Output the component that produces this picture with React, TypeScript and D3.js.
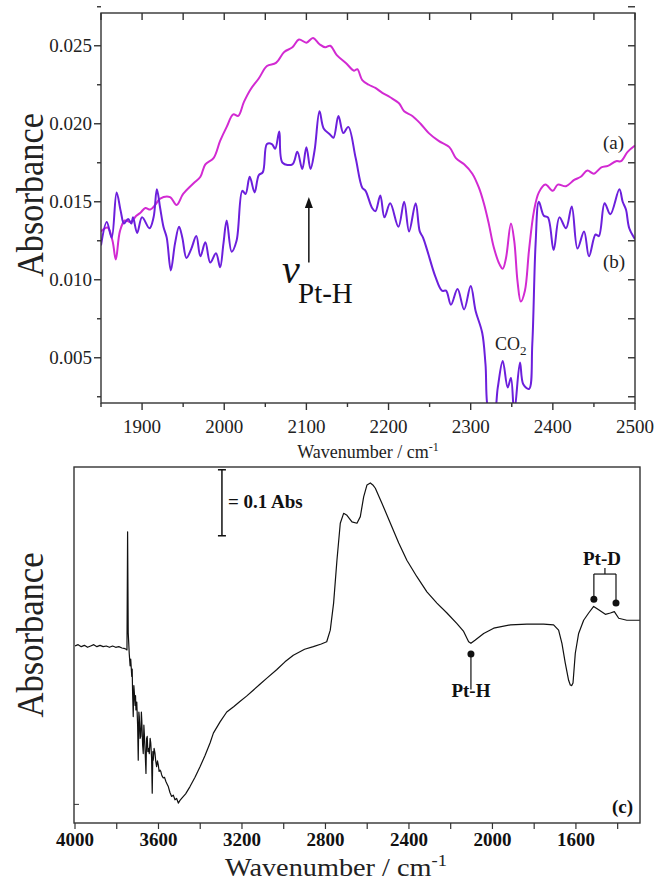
import React from 'react';
import * as d3 from 'd3';

// top panel: wavenumber (cm-1), absorbance
const specA: [number, number][] = [
  [1850, 0.0131], [1858, 0.01335], [1864, 0.0125], [1868, 0.0113], [1873, 0.0131], [1879, 0.0138],
  [1886, 0.0137], [1893, 0.0141], [1898, 0.0143], [1904, 0.0146], [1910, 0.0145], [1916, 0.0148],
  [1922, 0.0152], [1934, 0.0153], [1942, 0.0148], [1950, 0.0155], [1963, 0.0162], [1971, 0.0166],
  [1977, 0.0174], [1987, 0.0178], [1995, 0.0189], [2003, 0.0198], [2011, 0.0206], [2017, 0.0205],
  [2024, 0.0214], [2032, 0.0222], [2042, 0.0229], [2052, 0.0237], [2063, 0.0239], [2073, 0.0246],
  [2083, 0.0249], [2091, 0.0254], [2100, 0.0252], [2108, 0.0255], [2116, 0.0251], [2123, 0.0249],
  [2129, 0.025], [2137, 0.0244], [2148, 0.0239], [2158, 0.0234], [2162, 0.0235], [2168, 0.0228],
  [2176, 0.0225], [2184, 0.0223], [2192, 0.022], [2202, 0.0217], [2213, 0.0213], [2219, 0.0208],
  [2229, 0.0205], [2239, 0.02], [2249, 0.0194], [2261, 0.0189], [2274, 0.0185], [2282, 0.0178],
  [2292, 0.0174], [2302, 0.0168], [2310, 0.0159], [2316, 0.0149], [2322, 0.0136], [2328, 0.0121],
  [2335, 0.011], [2339, 0.0107], [2343, 0.0114], [2349, 0.0136], [2353, 0.0125], [2357, 0.0099],
  [2361, 0.0086], [2366, 0.0093], [2371, 0.0119], [2377, 0.0144], [2383, 0.0156], [2391, 0.0161],
  [2400, 0.0157], [2406, 0.0161], [2416, 0.016], [2426, 0.0164], [2434, 0.0166], [2442, 0.017],
  [2450, 0.0168], [2459, 0.0172], [2467, 0.0173], [2477, 0.0176], [2483, 0.0176], [2491, 0.0182],
  [2500, 0.0186],
];

const specB: [number, number][] = [
  [1850, 0.0122], [1857, 0.0137], [1863, 0.0127], [1869, 0.0156], [1874, 0.0144], [1878, 0.0136],
  [1883, 0.0139], [1887, 0.0136], [1889, 0.014], [1894, 0.013], [1900, 0.014], [1909, 0.0133],
  [1914, 0.014], [1918, 0.0158], [1922, 0.0146], [1926, 0.0134], [1930, 0.0127], [1935, 0.0106],
  [1940, 0.0123], [1945, 0.0134], [1949, 0.0127], [1954, 0.0114], [1960, 0.012], [1966, 0.0128],
  [1971, 0.0115], [1977, 0.0124], [1983, 0.0111], [1990, 0.0117], [1995, 0.0108], [1999, 0.0123],
  [2003, 0.0138], [2009, 0.0118], [2015, 0.0125], [2022, 0.0157], [2026, 0.0155], [2031, 0.0166],
  [2037, 0.0156], [2042, 0.0167], [2047, 0.0169], [2052, 0.0187], [2058, 0.0187], [2062, 0.0184],
  [2067, 0.0195], [2071, 0.0175], [2083, 0.0174], [2089, 0.0182], [2095, 0.0171], [2100, 0.0185],
  [2105, 0.0171], [2110, 0.0183], [2116, 0.0208], [2121, 0.0197], [2129, 0.0193], [2133, 0.0191],
  [2139, 0.0205], [2145, 0.0194], [2151, 0.0198], [2160, 0.0178], [2168, 0.0159], [2172, 0.0157],
  [2180, 0.0146], [2184, 0.0144], [2190, 0.0154], [2195, 0.014], [2202, 0.0149], [2212, 0.0134],
  [2219, 0.015], [2225, 0.0131], [2233, 0.0149], [2238, 0.0131], [2242, 0.0127], [2247, 0.0119],
  [2257, 0.0102], [2265, 0.0093], [2270, 0.0093], [2276, 0.0084], [2284, 0.0094], [2292, 0.0081],
  [2300, 0.0096], [2306, 0.008], [2314, 0.0066], [2318, 0.0046], [2322, 0.0015], [2328, 0.0012],
  [2333, 0.0031], [2339, 0.0048], [2345, 0.0031], [2349, 0.0037], [2353, 0.0015], [2360, 0.0047],
  [2364, 0.0033], [2371, 0.003], [2375, 0.0059], [2379, 0.0123], [2383, 0.015], [2389, 0.0141],
  [2394, 0.014], [2401, 0.0119], [2408, 0.014], [2416, 0.0133], [2423, 0.0147], [2430, 0.012],
  [2438, 0.0131], [2444, 0.0115], [2452, 0.0129], [2456, 0.0128], [2463, 0.0149], [2470, 0.0142],
  [2481, 0.0158], [2485, 0.015], [2489, 0.0145], [2493, 0.0133], [2500, 0.0126],
];

// bottom panel (c): relative absorbance
const specC: [number, number][] = [
  [4000, 0], [3985, 0.002], [3970, -0.001], [3955, 0.001], [3940, -0.002], [3925, 0], [3910, 0.002],
  [3895, -0.001], [3880, 0.001], [3865, -0.001], [3850, 0], [3835, -0.002], [3820, 0], [3805, -0.002],
  [3790, -0.001], [3775, -0.003], [3760, -0.004], [3751, -0.006], [3748, 0.173], [3745, 0.02],
  [3740, -0.012], [3736, -0.03], [3733, -0.02], [3728, -0.046], [3726, -0.035], [3724, -0.071],
  [3721, -0.107], [3718, -0.06], [3716, -0.069], [3712, -0.09], [3710, -0.075], [3708, -0.097],
  [3704, -0.085], [3700, -0.12], [3697, -0.173], [3694, -0.1], [3692, -0.107], [3688, -0.14],
  [3685, -0.137], [3682, -0.1], [3680, -0.112], [3676, -0.15], [3673, -0.163], [3670, -0.12],
  [3668, -0.132], [3664, -0.16], [3660, -0.193], [3657, -0.14], [3654, -0.137], [3651, -0.16],
  [3648, -0.155], [3644, -0.163], [3640, -0.14], [3637, -0.147], [3633, -0.17], [3630, -0.223],
  [3627, -0.16], [3625, -0.173], [3621, -0.155], [3617, -0.162], [3613, -0.175], [3609, -0.183],
  [3605, -0.174], [3601, -0.18], [3597, -0.19], [3593, -0.188], [3589, -0.19], [3585, -0.195],
  [3581, -0.198], [3577, -0.2], [3571, -0.199], [3565, -0.205], [3559, -0.209], [3553, -0.213],
  [3545, -0.222], [3537, -0.228], [3529, -0.226], [3521, -0.233], [3513, -0.231], [3505, -0.238],
  [3497, -0.234], [3489, -0.231], [3470, -0.224], [3449, -0.213], [3425, -0.199], [3401, -0.183],
  [3377, -0.166], [3353, -0.147], [3337, -0.132], [3305, -0.115], [3273, -0.1], [3240, -0.092],
  [3210, -0.084], [3178, -0.076], [3146, -0.067], [3114, -0.058], [3082, -0.049], [3034, -0.036],
  [2994, -0.024], [2954, -0.014], [2900, -0.005], [2858, -0.001], [2820, 0.003], [2794, 0.0065],
  [2777, 0.024], [2761, 0.065], [2745, 0.13], [2729, 0.186], [2713, 0.201], [2697, 0.198],
  [2673, 0.188], [2649, 0.186], [2633, 0.196], [2617, 0.226], [2601, 0.244], [2585, 0.247],
  [2573, 0.244], [2561, 0.239], [2529, 0.216], [2489, 0.186], [2449, 0.156], [2410, 0.13],
  [2362, 0.105], [2314, 0.082], [2266, 0.065], [2218, 0.05], [2170, 0.034], [2138, 0.022],
  [2114, 0.0065], [2103, 0.004], [2082, 0.009], [2042, 0.019], [1994, 0.027], [1914, 0.032],
  [1835, 0.033], [1755, 0.033], [1707, 0.032], [1683, 0.024], [1667, 0.004], [1651, -0.026],
  [1635, -0.052], [1627, -0.059], [1620, -0.06], [1614, -0.056], [1603, -0.011], [1587, 0.019],
  [1563, 0.039], [1539, 0.05], [1515, 0.06], [1491, 0.055], [1459, 0.048], [1435, 0.05],
  [1416, 0.052], [1395, 0.042], [1356, 0.039], [1293, 0.039],
];

const topXTicks = d3.range(1850, 2501, 50);
const topXLabels = [1900, 2000, 2100, 2200, 2300, 2400, 2500];
const topYTicks = d3.range(0.0025, 0.02751, 0.0025);
const topYLabels = [0.005, 0.01, 0.015, 0.02, 0.025];
const botXTicks = d3.range(4000, 1300, -200);
const botXLabels = [4000, 3600, 3200, 2800, 2400, 2000, 1600];

const SERIF = 'Liberation Serif, Times New Roman, Times, serif';
const MAGENTA = '#d22ad2';
const PURPLE = '#6c1fdc';
const AXIS = '#333';

export default function App() {
  // top panel scales
  const xT = d3.scaleLinear().domain([1850, 2500]).range([101, 635]);
  const yT = d3.scaleLinear().domain([0.0021, 0.0271]).range([403, 13]);
  const lineT = d3.line<[number, number]>()
    .x(d => xT(d[0]))
    .y(d => yT(d[1]))
    .curve(d3.curveCatmullRom.alpha(0.5));

  // bottom panel scales
  const xB = d3.scaleLinear().domain([4000, 1293]).range([75, 640]);
  const yB = d3.scaleLinear().domain([-0.2682, 0.2712]).range([823, 467]);
  const lineB = d3.line<[number, number]>()
    .x(d => xB(d[0]))
    .y(d => yB(d[1]))
    .curve(d3.curveLinear);

  const [tx0, tx1] = xT.range();
  const [ty1, ty0] = yT.range();
  const [bx0, bx1] = xB.range();
  const [by1, by0] = yB.range();

  const isMajorY = (v: number) => Math.abs(v / 0.005 - Math.round(v / 0.005)) < 1e-6;

  // annotations in data units
  const arrowW = 2103, arrowTip = 0.0153, arrowTail = 0.0111;
  const ptH = { w: 2103, v: -0.012, lineEnd: -0.066 };
  const ptD = [{ w: 1514, v: 0.071 }, { w: 1408, v: 0.065 }];
  const ptDBracket = 0.109;
  const scaleBar = { w: 3296, top: 0.267, bottom: 0.167 };

  return (
    <div style={{ position: 'fixed', left: 0, top: 0 }}>
      <svg width={654} height={881} style={{ display: 'block', background: '#fff', fontFamily: SERIF }}>
        <defs>
          <clipPath id="clipTop">
            <rect x={tx0} y={ty0} width={tx1 - tx0} height={ty1 - ty0} />
          </clipPath>
          <clipPath id="clipBot">
            <rect x={bx0} y={by0} width={bx1 - bx0} height={by1 - by0} />
          </clipPath>
        </defs>

        {/* ---------- top panel ---------- */}
        <g clipPath="url(#clipTop)">
          <path d={lineT(specA) ?? ''} fill="none" stroke={MAGENTA} strokeWidth={2} />
          <path d={lineT(specB) ?? ''} fill="none" stroke={PURPLE} strokeWidth={2} />
        </g>
        <rect x={tx0} y={ty0} width={tx1 - tx0} height={ty1 - ty0} fill="none" stroke={AXIS} strokeWidth={1.4} />

        {topXTicks.map(t => (
          <g key={'tx' + t}>
            <line x1={xT(t)} x2={xT(t)} y1={ty0} y2={ty0 + 7} stroke={AXIS} strokeWidth={1.4} />
            <line x1={xT(t)} x2={xT(t)} y1={ty1} y2={ty1 + (t % 100 === 0 ? 7 : 4)} stroke={AXIS} strokeWidth={1.4} />
          </g>
        ))}
        {topXLabels.map(t => (
          <text key={'txl' + t} x={xT(t)} y={433} fontSize={19} textAnchor="middle" fill="#222">{t}</text>
        ))}
        {topYTicks.map(t => (
          <g key={'ty' + t}>
            <line x1={tx0} x2={tx0 - (isMajorY(t) ? 7 : 4)} y1={yT(t)} y2={yT(t)} stroke={AXIS} strokeWidth={1.4} />
            <line x1={tx1} x2={tx1 - 7} y1={yT(t)} y2={yT(t)} stroke={AXIS} strokeWidth={1.4} />
          </g>
        ))}
        {topYLabels.map(t => (
          <text key={'tyl' + t} x={92} y={yT(t) + 6.5} fontSize={19} textAnchor="end" fill="#222">{t.toFixed(3)}</text>
        ))}
        <text transform="translate(43,195) rotate(-90)" fontSize={38} textAnchor="middle" textLength={164}
          lengthAdjust="spacingAndGlyphs" fill="#222">Absorbance</text>
        <text x={368} y={458} fontSize={18} textAnchor="middle" fill="#222">
          Wavenumber / cm<tspan dy={-7} fontSize={12}>-1</tspan>
        </text>

        <text x={603} y={149} fontSize={19} fill="#222">(a)</text>
        <text x={603} y={268} fontSize={19} fill="#222">(b)</text>
        <text x={495} y={350} fontSize={18} fill="#222">
          CO<tspan dy={5} fontSize={13}>2</tspan>
        </text>

        <line x1={xT(arrowW)} x2={xT(arrowW)} y1={yT(arrowTail)} y2={yT(arrowTip) + 8} stroke="#111" strokeWidth={1.5} />
        <path d={`M${xT(arrowW)},${yT(arrowTip)} l-4,11 l8,0 z`} fill="#111" />
        <text x={282} y={283} fontSize={40} fontStyle="italic" fill="#111">ν</text>
        <text x={298} y={303} fontSize={29} fill="#111">Pt-H</text>

        {/* ---------- bottom panel ---------- */}
        <g clipPath="url(#clipBot)">
          <path d={lineB(specC) ?? ''} fill="none" stroke="#111" strokeWidth={1.2} strokeLinejoin="round" />
        </g>
        <rect x={bx0 - 1} y={by0} width={bx1 - bx0 + 1} height={by1 - by0} fill="none" stroke={AXIS} strokeWidth={1.4} />
        {botXTicks.map(t => (
          <line key={'bx' + t} x1={xB(t)} x2={xB(t)} y1={by1} y2={by1 + 6} stroke={AXIS} strokeWidth={1.2} />
        ))}
        {botXLabels.map(t => (
          <text key={'bxl' + t} x={xB(t)} y={846} fontSize={19} fontWeight="bold" textAnchor="middle" fill="#111">{t}</text>
        ))}
        <line x1={bx0 - 1} x2={bx0 + 4} y1={yB(-0.24)} y2={yB(-0.24)} stroke={AXIS} strokeWidth={1} />

        <text transform="translate(43,635) rotate(-90)" fontSize={38} textAnchor="middle" textLength={165}
          lengthAdjust="spacingAndGlyphs" fill="#222">Absorbance</text>
        <text x={336} y={876} fontSize={26} textAnchor="middle" fill="#222" textLength={222}
          lengthAdjust="spacingAndGlyphs">
          Wavenumber / cm<tspan dy={-10} fontSize={17}>-1</tspan>
        </text>

        {/* scale bar */}
        <line x1={xB(scaleBar.w)} x2={xB(scaleBar.w)} y1={yB(scaleBar.top)} y2={yB(scaleBar.bottom)} stroke="#111" strokeWidth={1.5} />
        <line x1={xB(scaleBar.w) - 4} x2={xB(scaleBar.w) + 4} y1={yB(scaleBar.top)} y2={yB(scaleBar.top)} stroke="#111" strokeWidth={1.5} />
        <line x1={xB(scaleBar.w) - 4} x2={xB(scaleBar.w) + 4} y1={yB(scaleBar.bottom)} y2={yB(scaleBar.bottom)} stroke="#111" strokeWidth={1.5} />
        <text x={xB(scaleBar.w) + 6} y={508} fontSize={19} fontWeight="bold" fill="#111">= 0.1 Abs</text>

        {/* Pt-H marker */}
        <circle cx={xB(ptH.w)} cy={yB(ptH.v)} r={3.5} fill="#111" />
        <line x1={xB(ptH.w)} x2={xB(ptH.w)} y1={yB(ptH.v)} y2={yB(ptH.lineEnd)} stroke="#111" strokeWidth={1.2} />
        <text x={xB(ptH.w)} y={697} fontSize={19} fontWeight="bold" textAnchor="middle" fill="#111">Pt-H</text>

        {/* Pt-D markers */}
        {ptD.map(p => (
          <g key={'ptd' + p.w}>
            <circle cx={xB(p.w)} cy={yB(p.v)} r={3.5} fill="#111" />
            <line x1={xB(p.w)} x2={xB(p.w)} y1={yB(p.v)} y2={yB(ptDBracket)} stroke="#111" strokeWidth={1.2} />
          </g>
        ))}
        <line x1={xB(ptD[0].w)} x2={xB(ptD[1].w)} y1={yB(ptDBracket)} y2={yB(ptDBracket)} stroke="#111" strokeWidth={1.2} />
        <line x1={(xB(ptD[0].w) + xB(ptD[1].w)) / 2} x2={(xB(ptD[0].w) + xB(ptD[1].w)) / 2}
          y1={yB(ptDBracket)} y2={yB(ptDBracket) - 6} stroke="#111" strokeWidth={1.2} />
        <text x={602} y={565} fontSize={19} fontWeight="bold" textAnchor="middle" fill="#111">Pt-D</text>

        <text x={612} y={813} fontSize={19} fontWeight="bold" fill="#111">(c)</text>
      </svg>
    </div>
  );
}
